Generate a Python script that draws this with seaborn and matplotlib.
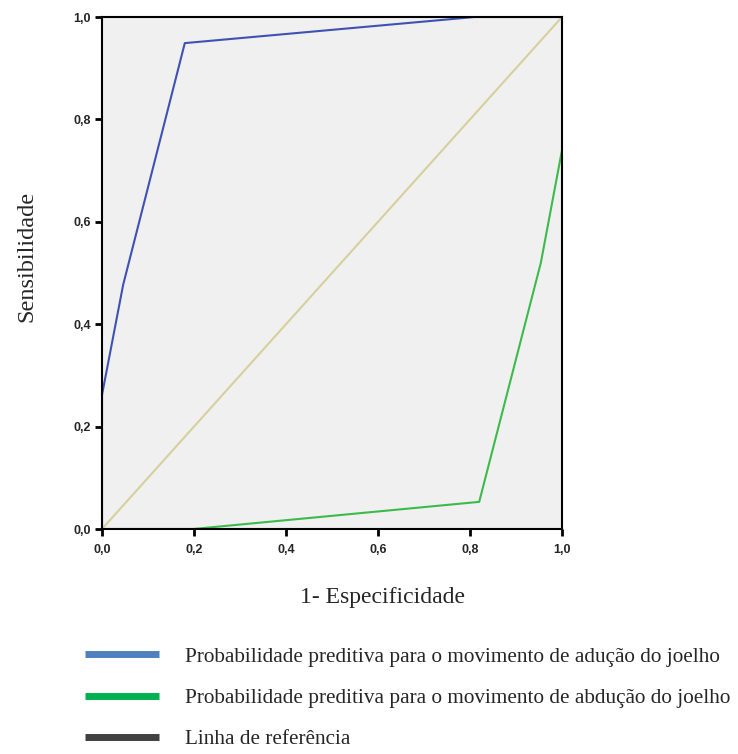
import numpy as np
import pandas as pd
import matplotlib.pyplot as plt
import seaborn as sns
from matplotlib.lines import Line2D

# ROC curve points
adu_fpr = [0.0, 0.0, 0.046, 0.18, 0.81, 1.0]
adu_tpr = [0.0, 0.262, 0.477, 0.949, 1.0, 1.0]
abd_fpr = [0.0, 0.198, 0.82, 0.954, 1.0]
abd_tpr = [0.0, 0.0, 0.053, 0.52, 0.74]
ref_fpr = [0.0, 1.0]
ref_tpr = [0.0, 1.0]

labels = [
    "Probabilidade preditiva para o movimento de adução do joelho",
    "Probabilidade preditiva para o movimento de abdução do joelho",
    "Linha de referência",
]
ticks = [0.0, 0.2, 0.4, 0.6, 0.8, 1.0]
tick_labels = ["0,0", "0,2", "0,4", "0,6", "0,8", "1,0"]

line_colors = ["#3f52b4", "#3cba4a", "#d6d09c"]
legend_colors = ["#4f81bd", "#00b050", "#404040"]

sns.set_theme(style="white")
plt.rcParams["font.family"] = ["Liberation Sans", "DejaVu Sans"]

W, H = 738, 754
fig = plt.figure(figsize=(W / 100, H / 100), dpi=100)
ax = fig.add_axes([102 / W, 1 - 529 / H, 460 / W, 512 / H])
ax.set_facecolor("#f0f0f0")

df_ref = pd.DataFrame({"x": ref_fpr, "y": ref_tpr})
df_adu = pd.DataFrame({"x": adu_fpr, "y": adu_tpr})
df_abd = pd.DataFrame({"x": abd_fpr, "y": abd_tpr})
sns.lineplot(data=df_ref, x="x", y="y", ax=ax, color=line_colors[2], lw=1.5,
             sort=False, estimator=None)
sns.lineplot(data=df_adu, x="x", y="y", ax=ax, color=line_colors[0], lw=1.5,
             sort=False, estimator=None)
sns.lineplot(data=df_abd, x="x", y="y", ax=ax, color=line_colors[1], lw=1.5,
             sort=False, estimator=None)

ax.set_xlim(0, 1)
ax.set_ylim(0, 1)
ax.set_xticks(ticks)
ax.set_yticks(ticks)
ax.set_xticklabels(tick_labels, fontsize=9, fontweight="bold")
ax.set_yticklabels(tick_labels, fontsize=9, fontweight="bold")
ax.tick_params(axis="x", pad=6)
ax.tick_params(axis="y", pad=3)
ax.tick_params(axis="both", direction="out", length=5, width=2, color="black",
               bottom=True, left=True)
for s in ax.spines.values():
    s.set_color("black")
    s.set_linewidth(1.5)

ax.set_xlabel("")
ax.set_ylabel("")
serif = ["Liberation Serif", "DejaVu Serif"]
fig.text(382 / W, 1 - 597 / H, "1- Especificidade", family=serif, fontsize=17,
         ha="center", va="center")
fig.text(27 / W, 1 - 256 / H, "Sensibilidade", family=serif, fontsize=17.5,
         ha="center", va="center", rotation=90)

# legend below the plot
handles = [Line2D([0], [0], color=c, lw=5, solid_capstyle="butt")
           for c in legend_colors]
fig.legend(handles, labels, loc="upper left",
           bbox_to_anchor=(85 / W, 1 - 647 / H), frameon=False,
           prop={"family": serif, "size": 15.3}, handlelength=3.5,
           handletextpad=1.2, labelspacing=1.0, borderpad=0, borderaxespad=0)

fig.savefig("out.png", dpi=100)
